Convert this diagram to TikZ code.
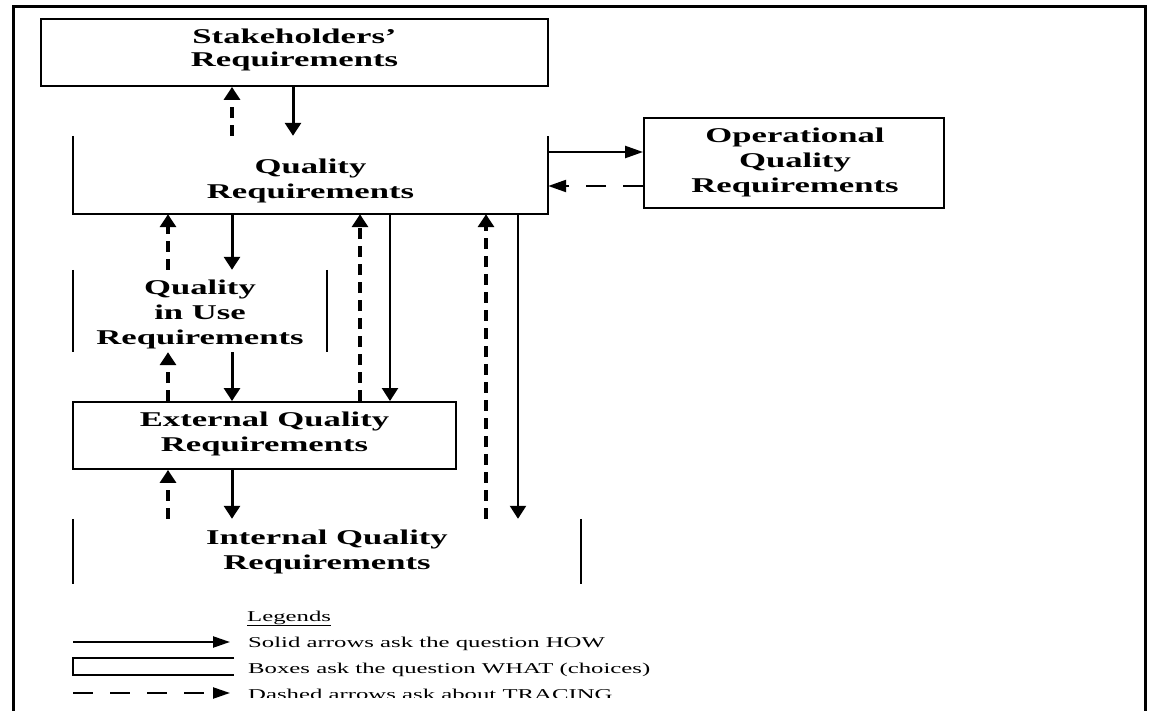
\documentclass[tikz,border=0pt]{standalone}
\usepackage{fontspec}
\setmainfont{Liberation Serif}
\newfontfamily\lblfont[FakeStretch=1.65]{Liberation Serif}
\usetikzlibrary{arrows.meta}
\tikzset{
  box/.style={draw, line width=1.9pt, inner sep=0pt},
  openbox/.style={inner sep=0pt},
  boxline/.style={line width=1.9pt, line join=miter},
  sideline/.style={line width=1.6pt},
  lbl/.style={inner sep=0pt, align=center, font=\lblfont\bfseries\fontsize{21}{25}\selectfont},
  lbltight/.style={lbl, font=\lblfont\bfseries\fontsize{21}{23}\selectfont},
  leg/.style={inner sep=0pt, font=\lblfont\fontsize{15}{18}\selectfont},
  vtip/.style={-{Triangle[length=13pt,width=16pt]}},
  how/.style={line width=3pt, vtip},
  howl/.style={line width=2.3pt, vtip},
  trace/.style={line width=3.4pt, dash pattern=on 11pt off 7pt, vtip},
  howh/.style={line width=2.3pt, -{Triangle[length=18pt,width=12pt]}},
  traceh/.style={line width=2.3pt, dash pattern=on 20pt off 17pt, -{Triangle[length=18pt,width=12pt]}},
  legarrow/.style={line width=2.3pt, -{Triangle[length=17pt,width=11pt]}},
  legtrace/.style={line width=2.3pt, dash pattern=on 20pt off 17pt, -{Triangle[length=17pt,width=11pt]}},
  frame/.style={line width=3.8pt, line join=miter}
}
\begin{document}
\begin{tikzpicture}[x=1pt,y=-1pt]
\useasboundingbox (0,0) rectangle (1149,711);

% outer frame
\coordinate (fbl) at (13.5,711);
\coordinate (ftl) at (13.5,6.5);
\coordinate (ftr) at (1145.5,6.5);
\coordinate (fbr) at (1145.5,711);
\draw[frame] (fbl) -- (ftl) -- (ftr) -- (fbr);

% boxes
\node[box, minimum width=507pt, minimum height=67pt] (stake) at (294.5,52.5) {};
\node[lbltight] (stakeT) at (294.5,50) {Stakeholders’\\Requirements};

\node[openbox, minimum width=475pt, minimum height=78pt] (qr) at (310.5,175) {};
\draw[boxline] (qr.north west) -- (qr.south west) -- (qr.south east) -- (qr.north east);
\node[lbl] (qrT) at (310.5,181) {Quality\\Requirements};

\node[box, minimum width=300pt, minimum height=90pt] (oqr) at (794,163) {};
\node[lbl] (oqrT) at (795,162.5) {Operational\\Quality\\Requirements};

\node[openbox, minimum width=254pt, minimum height=82pt] (qiu) at (200,311) {};
\draw[sideline] (qiu.north west) -- (qiu.south west);
\draw[sideline] (qiu.north east) -- (qiu.south east);
\node[lbl] (qiuT) at (200,314) {Quality\\in Use\\Requirements};

\node[box, minimum width=383pt, minimum height=67pt] (ext) at (264.5,435.5) {};
\node[lbl] (extT) at (264.5,433.5) {External Quality\\Requirements};

\node[openbox, minimum width=508pt, minimum height=65pt] (iqr) at (327,551.5) {};
\draw[sideline] (iqr.north west) -- (iqr.south west);
\draw[sideline] (iqr.north east) -- (iqr.south east);
\node[lbl] (iqrT) at (327,552) {Internal Quality\\Requirements};

% columns and rows
\coordinate (c168) at (168,0);
\coordinate (c232) at (232,0);
\coordinate (c293) at (293,0);
\coordinate (c360) at (360,0);
\coordinate (c390) at (390,0);
\coordinate (c486) at (486,0);
\coordinate (c518) at (518,0);
\coordinate (r152) at (0,152);
\coordinate (r186) at (0,186);

% connectors
\draw[trace] (qr.north -| c232) -- (stake.south -| c232);
\draw[how] (stake.south -| c293) -- (qr.north -| c293);
\draw[howh] (qr.east |- r152) -- (oqr.west |- r152);
\draw[traceh] (oqr.west |- r186) -- (qr.east |- r186);

\draw[trace] (qiu.north -| c168) -- (qr.south -| c168);
\draw[how] (qr.south -| c232) -- (qiu.north -| c232);
\draw[trace] (ext.north -| c360) -- (qr.south -| c360);
\draw[howl] (qr.south -| c390) -- (ext.north -| c390);
\draw[trace] (iqr.north -| c486) -- (qr.south -| c486);
\draw[howl] (qr.south -| c518) -- (iqr.north -| c518);

\draw[trace] (ext.north -| c168) -- (qiu.south -| c168);
\draw[how] (qiu.south -| c232) -- (ext.north -| c232);
\draw[trace] (iqr.north -| c168) -- (ext.south -| c168);
\draw[how] (ext.south -| c232) -- (iqr.north -| c232);

% legend
\node[leg, anchor=base west] (legT) at (247,621) {\underline{Legends}};
\coordinate (l1s) at (73,642);
\coordinate (l1e) at (230,642);
\draw[legarrow] (l1s) -- (l1e);
\node[leg, anchor=base west] (leg1) at (248,647) {Solid arrows ask the question HOW};
\coordinate (l2a) at (234,658);
\coordinate (l2b) at (73,658);
\coordinate (l2c) at (73,675);
\coordinate (l2d) at (234,675);
\draw[boxline] (l2a) -- (l2b) -- (l2c) -- (l2d);
\node[leg, anchor=base west] (leg2) at (248,673) {Boxes ask the question WHAT (choices)};
\coordinate (l3s) at (73,693);
\coordinate (l3e) at (230,693);
\draw[legtrace] (l3s) -- (l3e);
\begin{scope}
  \clip (240,600) rectangle (720,697);
  \node[leg, anchor=base west] (leg3) at (248,699) {Dashed arrows ask about TRACING};
\end{scope}
\end{tikzpicture}
\end{document}
